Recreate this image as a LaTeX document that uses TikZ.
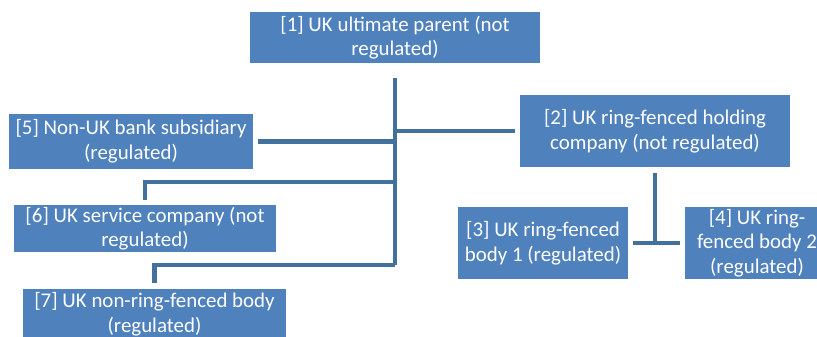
\documentclass[tikz,border=0pt]{standalone}
\usepackage{fontspec}
\setmainfont{Carlito}
\usetikzlibrary{calc}
\definecolor{boxblue}{HTML}{4F81BD}
\definecolor{linkblue}{HTML}{41719C}

\begin{document}
\begin{tikzpicture}[
  entity/.style={fill=boxblue,text=white,align=center,inner sep=0pt,
    font=\fontsize{11.9}{14}\selectfont},
  link/.style={line width=2.4pt,color=linkblue}]
\useasboundingbox (0,0) rectangle (16.34,6.72);
\clip (0,0) rectangle (16.34,6.72);

\node[entity,minimum width=5.8cm,minimum height=1.02cm] (n1) at (7.90,5.97) {[1] UK ultimate parent (not\\regulated)};
\node[entity,minimum width=5.4cm,minimum height=1.44cm] (n2) at (13.10,4.10) {[2] UK ring-fenced holding\\company (not regulated)};
\node[entity,minimum width=3.4cm,minimum height=1.44cm] (n3) at (10.86,1.86) {[3] UK ring-fenced\\body 1 (regulated)};
\node[entity,minimum width=2.88cm,minimum height=1.44cm] (n4) at (15.14,1.86) {[4] UK ring-\\fenced body 2\\(regulated)};
\node[entity,minimum width=4.88cm,minimum height=1.10cm] (n5) at (2.62,3.89) {[5] Non-UK bank subsidiary\\(regulated)};
\node[entity,minimum width=5.24cm,minimum height=0.94cm] (n6) at (2.90,2.15) {[6] UK service company (not\\regulated)};
\node[entity,minimum width=5.26cm,minimum height=1.00cm] (n7) at (3.09,0.44) {[7] UK non-ring-fenced body\\(regulated)};

\coordinate (j6) at (7.90,3.08);
\coordinate (j7) at (7.90,1.42);

\draw[link,shorten <=0.3cm] (n1.south) -- (j7);
\draw[link,shorten >=0.1cm] (n1.south |- n2.west) -- (n2.west);
\draw[link,shorten >=0.1cm] (n1.south |- n5.east) -- (n5.east);
\draw[link,shorten >=0.1cm] (j6) -| (n6.north);
\draw[link,shorten >=0.12cm] (j7) -| (n7.north);
\draw[link,shorten <=0.12cm] (n2.south) -- (n2.south |- n3.east);
\draw[link,shorten <=0.1cm,shorten >=0.1cm] (n3.east) -- (n4.west);

\end{tikzpicture}
\end{document}
